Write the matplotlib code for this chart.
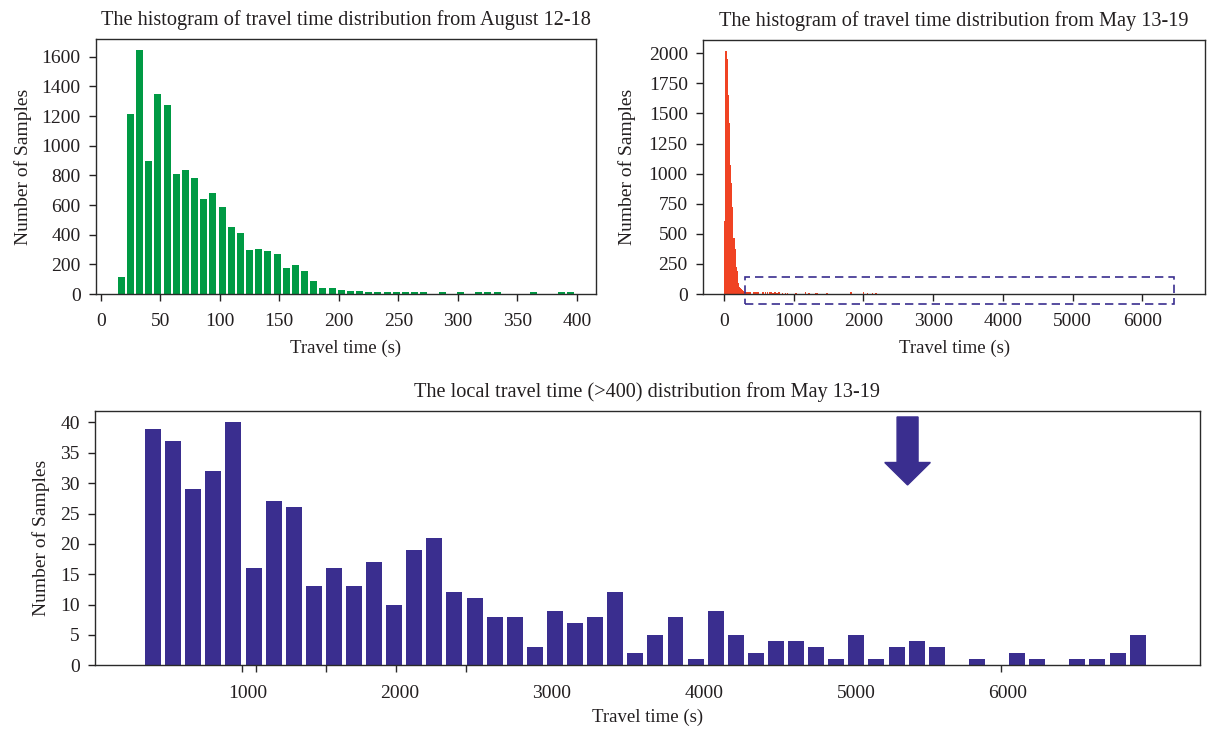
import numpy as np
import matplotlib.pyplot as plt
from matplotlib.patches import Rectangle, FancyArrow

plt.rcParams['font.family'] = ['Liberation Serif', 'DejaVu Serif']
plt.rcParams['font.size'] = 13

ink = '#231f20'
green = '#009a44'
red = '#f04323'
purple = '#3a2e8f'

# August 12-18, 50 bins between ~13 s and ~398 s
aug_counts = [115, 1214, 1645, 897, 1349, 1272, 809, 836, 782, 641,
              681, 587, 452, 411, 297, 303, 290, 270, 175, 196,
              155, 88, 40, 40, 27, 20, 20, 13, 13, 13,
              13, 13, 13, 13, 0, 13, 0, 13, 0, 13,
              13, 13, 0, 0, 0, 13, 0, 0, 13, 13]

# May 13-19, 15 s bins (left edges in seconds)
may_edges = [0, 15, 30, 45, 60, 75, 90, 105, 120, 135, 150, 165, 180, 195,
             210, 225, 240, 255, 270, 285, 300, 315, 330, 345, 360, 420, 435,
             450, 465, 480, 540, 555, 585, 615, 645, 660, 690, 720, 750, 780,
             825, 870, 900, 1020, 1160, 1210, 1305, 1330, 1465, 1810, 1990,
             2045, 2120, 2165]
may_counts = [606, 2018, 1949, 1653, 1418, 1071, 919, 725, 0, 462, 371, 222, 194, 89,
              61, 47, 39, 30, 24, 20, 18, 18, 16, 18, 16, 16, 18,
              16, 14, 16, 14, 16, 14, 14, 14, 14, 12, 14, 12, 14,
              12, 12, 12, 12, 14, 12, 12, 12, 10, 14, 14,
              12, 12, 12]

# May 13-19, travel time > 400 s
local_counts = [39, 37, 29, 32, 40, 16, 27, 26, 13, 16,
                13, 17, 10, 19, 21, 12, 11, 8, 8, 3,
                9, 7, 8, 12, 2, 5, 8, 1, 9, 5,
                2, 4, 4, 3, 1, 5, 1, 3, 4, 3,
                0, 1, 0, 2, 1, 0, 1, 1, 2, 5]

aug_centers = 17.2 + 7.7 * np.arange(len(aug_counts))
local_centers = 376 + 132.2 * np.arange(len(local_counts))

fig = plt.figure(figsize=(12.07, 7.31), dpi=100)
ax1 = fig.add_axes([0.0795, 0.5978, 0.4143, 0.3488])
ax2 = fig.add_axes([0.5825, 0.5978, 0.4159, 0.3475])
ax3 = fig.add_axes([0.0787, 0.0899, 0.9155, 0.348])


def style(ax):
    for s in ax.spines.values():
        s.set_color('#2a2a2a')
        s.set_linewidth(1.0)
    ax.tick_params(direction='out', length=5, width=1, colors=ink, labelsize=14)
    ax.tick_params(axis='x', pad=9)
    ax.tick_params(axis='y', pad=6)
    ax.set_ylabel('Number of Samples', color=ink, fontsize=14, labelpad=7)
    ax.set_xlabel('Travel time (s)', color=ink, fontsize=13.5, labelpad=7)


# top left
ax1.bar(aug_centers, aug_counts, width=5.9, color=green)
ax1.set_xlim(-4, 416)
ax1.set_ylim(0, 1720)
ax1.set_xticks(range(0, 401, 50))
ax1.set_yticks(range(0, 1601, 200))
ax1.set_title('The histogram of travel time distribution from August 12-18', color=ink, fontsize=14.6, pad=10)
style(ax1)

# top right
ax2.bar(may_edges, may_counts, width=22, align='edge', color=red, linewidth=0)
ax2.set_xlim(-301, 6900)
ax2.set_ylim(0, 2110)
ax2.set_xticks(range(0, 6001, 1000))
ax2.set_yticks(range(0, 2001, 250))
ax2.set_title('The histogram of travel time distribution from May 13-19', color=ink, fontsize=14.6, pad=10)
style(ax2)
ax2.yaxis.labelpad = 9
box = Rectangle((300, -83), 6156, 224, fill=False, edgecolor=purple, linestyle=(0, (5, 3)),
                linewidth=1.2, clip_on=False, zorder=5)
ax2.add_patch(box)

# bottom
ax3.bar(local_centers, local_counts, width=105, color=purple)
ax3.set_xlim(-6, 7264)
ax3.set_ylim(0, 41.9)
ax3.set_xticks(range(1000, 6001, 1000))
ax3.set_xticks([959, 1051, 1514, 1972, 2433, 5955], minor=True)
ax3.set_yticks(range(0, 41, 5))
ax3.set_title('The local travel time (>400) distribution from May 13-19', color=ink, fontsize=14.6, pad=10)
style(ax3)
ax3.tick_params(axis='x', which='major', length=0, pad=14)
ax3.tick_params(axis='x', which='minor', length=5, width=1, colors='#2a2a2a')
ax3.xaxis.labelpad = 5
arrow = FancyArrow(5340, 40.9, 0, -11.2, width=138, head_width=300, head_length=3.7,
                   length_includes_head=True, color=purple, zorder=5)
ax3.add_patch(arrow)

fig.savefig('out.png', dpi=100)
